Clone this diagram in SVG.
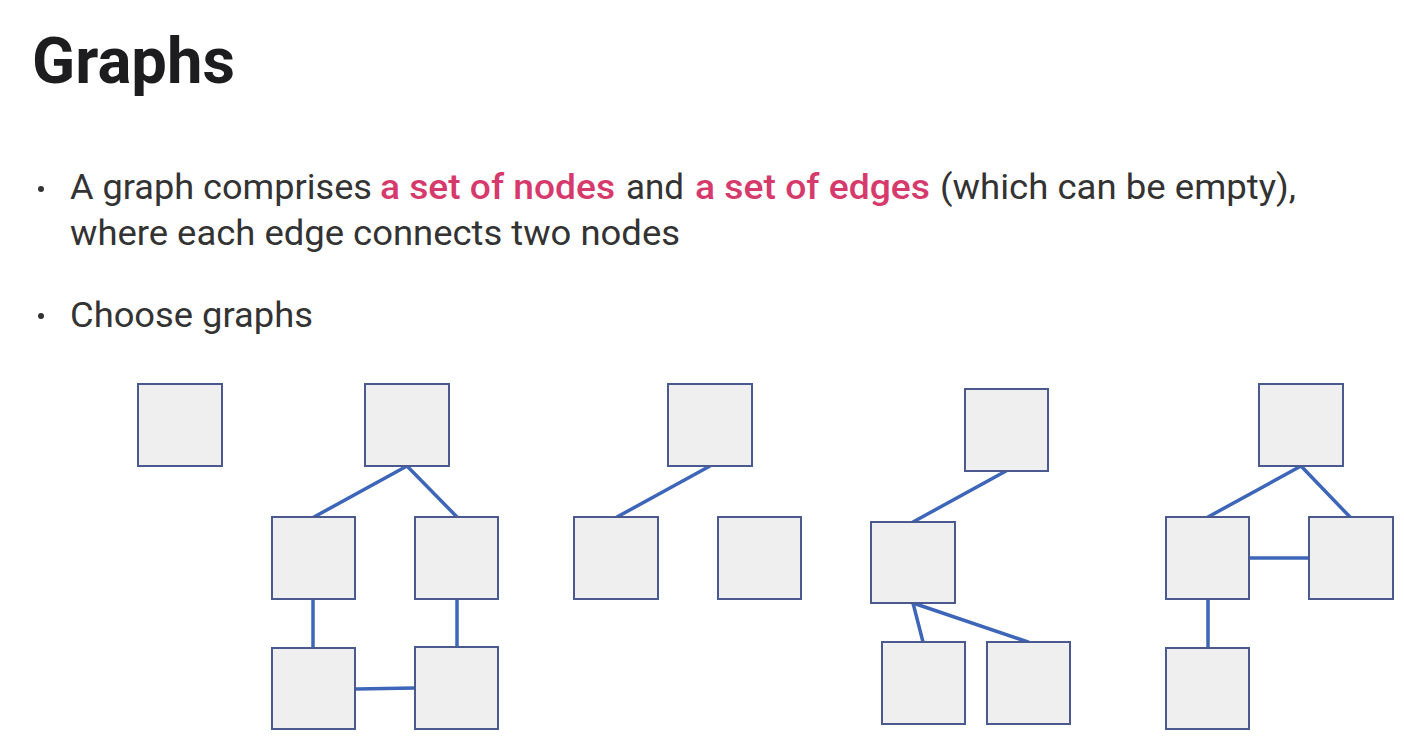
<svg xmlns="http://www.w3.org/2000/svg" width="1404" height="746" viewBox="0 0 1404 746">
<style>
.bg{fill:#ffffff}
.title{font-family:Roboto,"Liberation Sans",sans-serif;font-weight:700;font-size:65px;fill:#1d1d1f}
.body{font-family:Roboto,"Liberation Sans",sans-serif;font-weight:400;font-size:35px;fill:#333333}
.hl{font-family:Roboto,"Liberation Sans",sans-serif;font-weight:500;font-size:35px;fill:#d63a6c}
.bullet{fill:#333333}
.node rect{fill:#efefef;stroke:#4a5a8f;stroke-width:2}
.edges line{stroke:#3d66b8;stroke-width:3.5;stroke-linecap:round}
</style>
<rect class="bg" x="0" y="0" width="1404" height="746"/>
<text class="title" x="32" y="83" textLength="203" lengthAdjust="spacingAndGlyphs">Graphs</text>
<circle class="bullet" cx="41" cy="189" r="3"/>
<text class="body" x="70" y="199" textLength="302" lengthAdjust="spacingAndGlyphs">A graph comprises</text>
<text class="hl" x="380" y="199" textLength="235" lengthAdjust="spacingAndGlyphs">a set of nodes</text>
<text class="body" x="626" y="199" textLength="58" lengthAdjust="spacingAndGlyphs">and</text>
<text class="hl" x="695" y="199" textLength="235" lengthAdjust="spacingAndGlyphs">a set of edges</text>
<text class="body" x="940" y="199" textLength="356" lengthAdjust="spacingAndGlyphs">(which can be empty),</text>
<text class="body" x="70" y="245" textLength="610" lengthAdjust="spacingAndGlyphs">where each edge connects two nodes</text>
<circle class="bullet" cx="41" cy="316" r="3"/>
<text class="body" x="70" y="327" textLength="243" lengthAdjust="spacingAndGlyphs">Choose graphs</text>
<g class="edges" id="connectors">
<line x1="407" y1="466" x2="314" y2="517"/>
<line x1="407" y1="466" x2="457" y2="517"/>
<line x1="313" y1="599" x2="313" y2="648"/>
<line x1="457" y1="599" x2="457" y2="647"/>
<line x1="355" y1="689" x2="415" y2="688"/>
<line x1="710" y1="466" x2="617" y2="517"/>
<line x1="1006" y1="471" x2="913" y2="522"/>
<line x1="913" y1="603" x2="923" y2="642"/>
<line x1="913" y1="603" x2="1028" y2="642"/>
<line x1="1301" y1="466" x2="1208" y2="517"/>
<line x1="1301" y1="466" x2="1350" y2="517"/>
<line x1="1249" y1="558" x2="1309" y2="558"/>
<line x1="1208" y1="599" x2="1208" y2="648"/>
</g>
<g class="node" id="n1"><rect x="138" y="384" width="84" height="82"/></g>
<g class="node" id="n2"><rect x="365" y="384" width="84" height="82"/></g>
<g class="node" id="n3"><rect x="272" y="517" width="83" height="82"/></g>
<g class="node" id="n4"><rect x="415" y="517" width="83" height="82"/></g>
<g class="node" id="n5"><rect x="272" y="648" width="83" height="81"/></g>
<g class="node" id="n6"><rect x="415" y="647" width="83" height="82"/></g>
<g class="node" id="n7"><rect x="668" y="384" width="84" height="82"/></g>
<g class="node" id="n8"><rect x="574" y="517" width="84" height="82"/></g>
<g class="node" id="n9"><rect x="718" y="517" width="83" height="82"/></g>
<g class="node" id="n10"><rect x="965" y="389" width="83" height="82"/></g>
<g class="node" id="n11"><rect x="871" y="522" width="84" height="81"/></g>
<g class="node" id="n12"><rect x="882" y="642" width="83" height="82"/></g>
<g class="node" id="n13"><rect x="987" y="642" width="83" height="82"/></g>
<g class="node" id="n14"><rect x="1259" y="384" width="84" height="82"/></g>
<g class="node" id="n15"><rect x="1166" y="517" width="83" height="82"/></g>
<g class="node" id="n16"><rect x="1309" y="517" width="84" height="82"/></g>
<g class="node" id="n17"><rect x="1166" y="648" width="83" height="81"/></g>
</svg>
